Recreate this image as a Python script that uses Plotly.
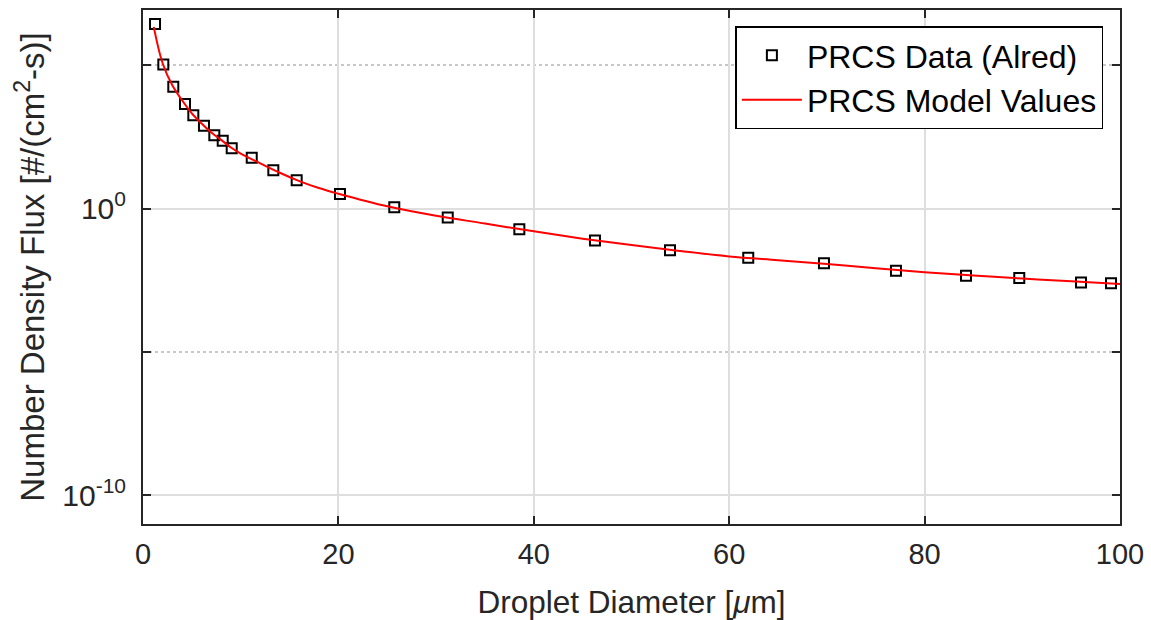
import plotly.graph_objects as go

# PRCS data
data_d = [1.23, 2.08, 3.10, 4.30, 5.15, 6.24, 7.30, 8.16, 9.08, 11.13, 13.34, 15.73,
          20.16, 25.72, 31.19, 38.52, 46.26, 53.94, 61.95, 69.70, 77.07, 84.24,
          89.69, 96.01, 99.08]
data_flux = [2.75e6, 1.07e5, 1.78e4, 4.47e3, 1.82e3, 776, 363, 234, 126, 58.9, 21.9, 9.77,
             3.24, 1.10, 0.49, 0.19, 0.076, 0.035, 0.019, 0.0123, 0.0068, 0.0045,
             0.0038, 0.0026, 0.00245]

# PRCS model curve
model_d = [1.1, 2, 3, 4, 5, 6, 7, 8, 9, 10, 12, 14, 16, 18, 20, 25, 30, 35, 40, 45,
           50, 55, 60, 65, 70, 75, 80, 85, 90, 95, 100]
model_flux = [2.2e6, 1.2e5, 2.0e4, 6.0e3, 2.1e3, 9.3e2, 4.5e2, 2.5e2, 1.35e2, 83, 38, 17.8,
              9.1, 5.2, 3.3, 1.2, 0.56, 0.30, 0.16, 0.089, 0.053, 0.033, 0.0214, 0.0158,
              0.0117, 0.0083, 0.0060, 0.0046, 0.0036, 0.0029, 0.00234]

x_ticks = [0, 20, 40, 60, 80, 100]
y_ticks = [1e-10, 1e0]
y_ticklabels = ["10<sup>-10</sup>", "10<sup>0</sup>"]
y_minor = [1e-5, 1e5]

FONT = "Liberation Sans, Arial, Helvetica, sans-serif"
AX = "#262626"

fig = go.Figure()
fig.add_trace(go.Scatter(
    x=data_d, y=data_flux, mode="markers", name="PRCS Data (Alred)",
    marker=dict(symbol="square-open", size=10, color="black", line=dict(width=2, color="black")),
))
fig.add_trace(go.Scatter(
    x=model_d, y=model_flux, mode="lines", name="PRCS Model Values",
    line=dict(color="#ff0000", width=2, shape="spline"),
))

fig.update_layout(
    width=1151, height=620,
    margin=dict(l=143, r=31, t=10, b=96, autoexpand=False),
    paper_bgcolor="white", plot_bgcolor="white",
    font=dict(family=FONT, size=29, color=AX),
    showlegend=True,
    legend=dict(
        x=0.983, y=0.968, xanchor="right", yanchor="top",
        bgcolor="white", bordercolor="black", borderwidth=1.5,
        font=dict(family=FONT, size=32, color="black"),
        itemwidth=60, tracegroupgap=0,
    ),
)

fig.update_xaxes(
    range=[0, 100], tickvals=x_ticks, ticks="inside", ticklen=8, tickwidth=1.5,
    tickcolor=AX, showline=True, linecolor=AX, linewidth=2, mirror="ticks",
    showgrid=True, gridcolor="#dedede", gridwidth=1.5, zeroline=False,
    tickfont=dict(size=29, color=AX), ticklabelstandoff=3, automargin=False,
    title=dict(text="Droplet Diameter [<i>μ</i>m]", font=dict(size=31.5, color=AX), standoff=26),
)
fig.update_yaxes(
    type="log", range=[-11.01, 6.93], tickvals=y_ticks, ticktext=y_ticklabels,
    ticks="inside", ticklen=8, tickwidth=1.5, tickcolor=AX,
    showline=True, linecolor=AX, linewidth=2, mirror="ticks",
    showgrid=True, gridcolor="#dedede", gridwidth=1.5, zeroline=False,
    tickfont=dict(size=30, color=AX), ticklabelstandoff=9, automargin=False,
    minor=dict(tickvals=y_minor, ticks="inside", ticklen=8, tickcolor=AX,
               showgrid=True, gridcolor="#c8c8c8", griddash="dot", gridwidth=1.5),
    title=dict(text="Number Density Flux [#/(cm<sup>2</sup>-s)]", font=dict(size=33, color=AX), standoff=8),
)

fig.write_html("out.html")
